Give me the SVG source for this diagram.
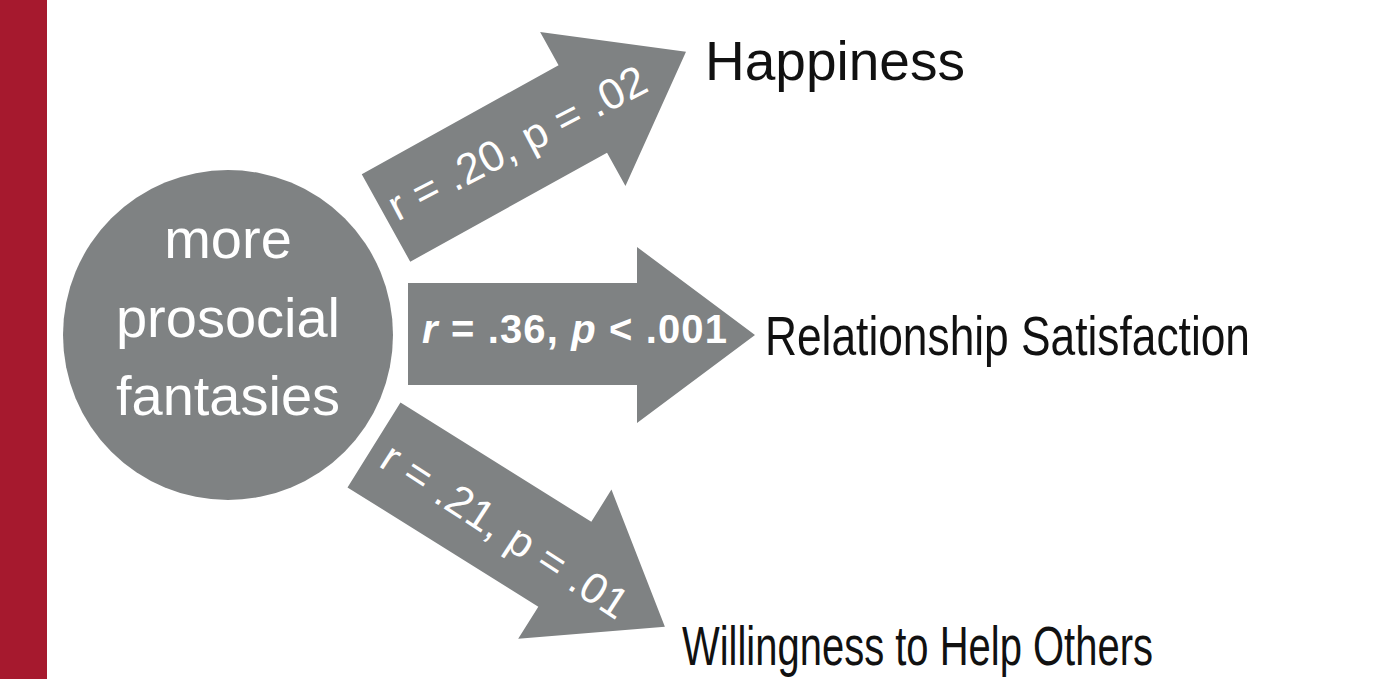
<svg xmlns="http://www.w3.org/2000/svg" width="1396" height="679" viewBox="0 0 1396 679">
<style>
.arrow{fill:#7f8283;}
.lbl{font-family:"Liberation Sans",Arial,sans-serif;font-size:43px;fill:#ffffff;}
.lblb{font-family:"Liberation Sans",Arial,sans-serif;font-weight:bold;font-size:40px;fill:#ffffff;}
.it{font-style:italic;}
.out{font-family:"Liberation Sans",Arial,sans-serif;font-size:55px;fill:#111111;}
.ctext{font-family:"Liberation Sans",Arial,sans-serif;font-size:56px;fill:#ffffff;text-anchor:middle;}
</style>
<rect width="1396" height="679" fill="#ffffff"/>
<rect x="0" y="0" width="47" height="679" fill="#a6192e"/>
<g id="source">
<circle cx="228" cy="335" r="165" fill="#7f8283"/>
<text class="ctext" x="228" y="258">more</text>
<text class="ctext" x="228" y="337">prosocial</text>
<text class="ctext" x="228" y="415">fantasies</text>
</g>
<g id="connectors">
<g id="arrow-happiness">
<path class="arrow" transform="translate(386,218) rotate(-29)" d="M0,-50 L225,-50 L225,-88 L343,0 L225,88 L225,50 L0,50 Z"/>
<text class="lbl" transform="translate(524,156) rotate(-27.5)" text-anchor="middle" textLength="285" lengthAdjust="spacing">r = .20, p = .02</text>
</g>
<g id="arrow-relationship">
<path class="arrow" d="M408,283 L637,283 L637,247 L755,335 L637,423 L637,385 L408,385 Z"/>
<text class="lblb" x="422" y="343" textLength="305" lengthAdjust="spacing"><tspan class="it">r</tspan> = .36, <tspan class="it">p</tspan> &lt; .001</text>
</g>
<g id="arrow-willingness">
<path class="arrow" transform="translate(374,445) rotate(32)" d="M0,-50 L225,-50 L225,-88 L343,0 L225,88 L225,50 L0,50 Z"/>
<text class="lbl" transform="translate(497,543) rotate(33)" text-anchor="middle" textLength="285" lengthAdjust="spacing">r = .21, p = .01</text>
</g>
</g>
<g id="happiness">
<text class="out" x="705" y="80">Happiness</text>
</g>
<g id="relationship-satisfaction">
<text class="out" x="765" y="355" textLength="485" lengthAdjust="spacingAndGlyphs">Relationship Satisfaction</text>
</g>
<g id="willingness">
<text class="out" x="682" y="665" font-size="54" textLength="471" lengthAdjust="spacingAndGlyphs">Willingness to Help Others</text>
</g>
</svg>
